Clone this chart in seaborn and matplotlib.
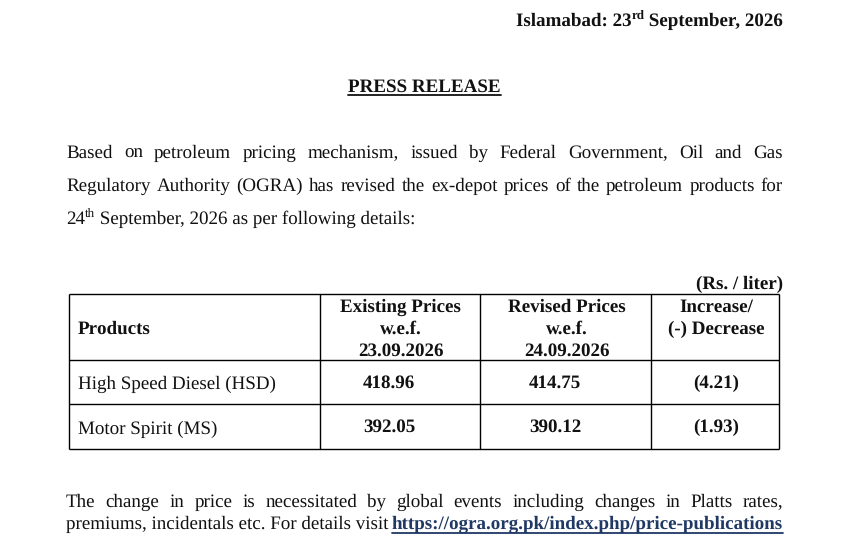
import matplotlib
matplotlib.use('Agg')
import matplotlib.pyplot as plt
import seaborn as sns

# Data
products = ['High Speed Diesel (HSD)', 'Motor Spirit (MS)']
existing = ['418.96', '392.05']
revised = ['414.75', '390.12']
change = ['(4.21)', '(1.93)']
head_existing = ['Existing Prices', 'w.e.f.', '23.09.2026']
head_revised = ['Revised Prices', 'w.e.f.', '24.09.2026']
head_change = ['Increase/', '(-) Decrease']
para1 = ['Based on petroleum pricing mechanism, issued by Federal Government, Oil and Gas',
         'Regulatory Authority (OGRA) has revised the ex-depot prices of the petroleum products for']
para2 = 'The change in price is necessitated by global events including changes in Platts rates,'
link = 'https://ogra.org.pk/index.php/price-publications'

sns.set_theme(style='white')
plt.rcParams['font.family'] = ['Liberation Serif', 'DejaVu Serif']
plt.rcParams['text.hinting'] = 'no_hinting'
plt.rcParams['text.hinting_factor'] = 1

W, H = 860, 549
SIZE = 13.8
INK = '#111111'
LINK = '#1f3864'
LEFT, RIGHT = 66, 783

fig = plt.figure(figsize=(W / 100, H / 100), dpi=100)
ax = fig.add_axes([0, 0, 1, 1])
ax.set_xlim(0, W)
ax.set_ylim(H, 0)
ax.axis('off')
rend = fig.canvas.get_renderer()


def put(x, y, s, bold=False, size=SIZE, color=INK, ha='left'):
    t = ax.text(x, y, s, fontsize=size, color=color, ha=ha, va='baseline',
                fontweight='bold' if bold else 'normal')
    return t


def width(s, bold=False, size=SIZE):
    t = put(0, 0, s, bold, size)
    w = t.get_window_extent(rend).width
    t.remove()
    return w


def justified(y, s, x0=LEFT, x1=RIGHT):
    words = s.split()
    ws = [width(w) for w in words]
    gap = (x1 - x0 - sum(ws)) / (len(words) - 1)
    x = x0
    for w, wd in zip(words, ws):
        put(x, y, w)
        x += wd + gap


def runs(x, y, parts, bold=False):
    # parts: (text, is_superscript)
    for s, sup in parts:
        size = SIZE * 0.7 if sup else SIZE
        put(x, y - 7 if sup else y, s, bold, size)
        x += width(s, bold, size)
    return x


# Date line, right aligned
parts = [('Islamabad: 23', False), ('rd', True), (' September, 2026', False)]
total = sum(width(s, True, SIZE * 0.7 if sup else SIZE) for s, sup in parts)
runs(RIGHT - total, 26, parts, bold=True)

# Heading
put(424.5, 92, 'PRESS RELEASE', bold=True, ha='center')
w = width('PRESS RELEASE', True)
ax.plot([424.5 - w / 2, 424.5 + w / 2], [95, 95], color=INK, lw=1.3)

# First paragraph
justified(158, para1[0])
justified(191, para1[1])
runs(LEFT, 224, [('24', False), ('th', True), (' September, 2026 as per following details:', False)])

# Table
put(783, 289, '(Rs. / liter)', bold=True, ha='right')
xs = [69, 320, 480, 650.5, 778.5]
ys = [294, 360, 404, 448.5]
ax.hlines(ys, xs[0], xs[-1], color='black', lw=1.0)
ax.vlines(xs, ys[0], ys[-1], color='black', lw=1.0)

put(78, 334, 'Products', bold=True)
for cx, lines in zip([400.5, 566.5, 716], [head_existing, head_revised, head_change]):
    for i, s in enumerate(lines):
        put(cx, 312 + i * 22, s, bold=True, ha='center')

for i, y in enumerate([389, 434]):
    put(78, y, products[i])
    by = y - 1 if i == 0 else y - 2
    put(389, by, existing[i], bold=True, ha='center')
    put(555, by, revised[i], bold=True, ha='center')
    put(716, by, change[i], bold=True, ha='center')

# Closing paragraph
justified(507, para2)
runs(LEFT, 529, [('premiums, incidentals etc. For details visit', False)])
lw_link = width(link, True)
lx = RIGHT - lw_link
put(lx, 529, link, bold=True, color=LINK)
ax.plot([lx, RIGHT], [532.5, 532.5], color=LINK, lw=1.3)

fig.savefig('out.png', dpi=100, facecolor='white')
